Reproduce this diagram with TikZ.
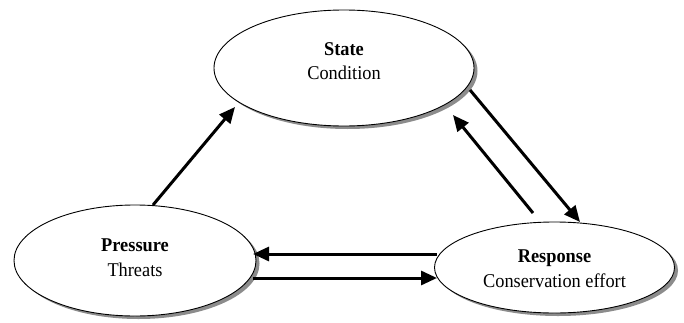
\documentclass[tikz,border=0pt]{standalone}
\usepackage{fontspec}
\setmainfont{Liberation Serif}[FakeStretch=0.94]
\usetikzlibrary{shapes.geometric,shadows,arrows.meta}
\begin{document}
\begin{tikzpicture}[x=1pt,y=1pt,
  ell/.style={ellipse, draw=black, line width=0.9pt, fill=white, inner sep=0pt,
    drop shadow={shadow xshift=3.5pt, shadow yshift=-3pt, fill=black!45, opacity=1}},
  lbl/.style={align=center, inner sep=0pt, font=\fontsize{19.5}{24.5}\selectfont},
  arr/.style={line width=3pt, -{Triangle[length=16pt,width=14pt]}}]
\useasboundingbox (0,0) rectangle (684,322);
\node[ell, minimum width=260pt, minimum height=116pt] (S) at (344,254) {};
\node[ell, minimum width=242pt, minimum height=111pt] (P) at (135,61.5) {};
\node[ell, minimum width=240pt, minimum height=91pt] (R) at (554.5,54.5) {};
\node[lbl] (St) at ([yshift=7pt]S.center) {\textbf{State}\\Condition};
\node[lbl] (Pt) at ([yshift=3pt]P.center) {\textbf{Pressure}\\Threats};
\node[lbl] (Rt) at ([yshift=-1pt]R.center) {\textbf{Response}\\Conservation effort};
\draw[arr] ([shift={(18,55.5)}]P.center) -- ([shift={(-109,-39)}]S.center);
\draw[arr] ([shift={(126,-22)}]S.center) -- ([shift={(25.5,45.5)}]R.center);
\draw[arr] ([shift={(-21.5,54.5)}]R.center) -- ([shift={(109,-47)}]S.center);
\draw[arr] ([shift={(-117.5,13.5)}]R.center) -- ([shift={(118,6.5)}]P.center);
\draw[arr] ([shift={(118,-17.5)}]P.center) -- ([shift={(-117.5,-10.5)}]R.center);
\end{tikzpicture}
\end{document}
